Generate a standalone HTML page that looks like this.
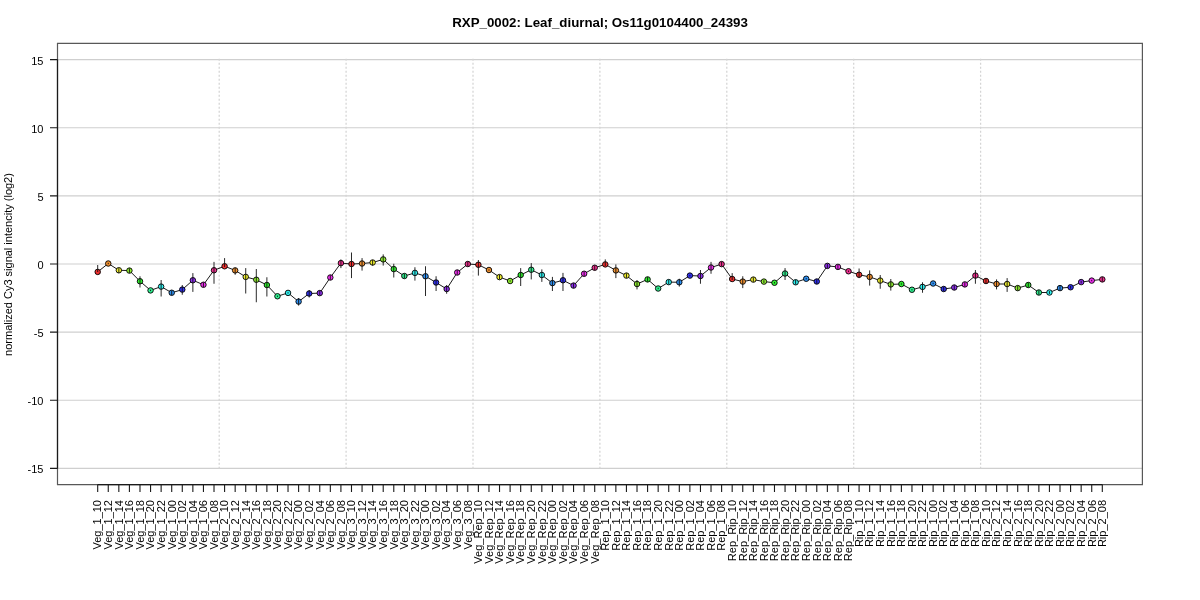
<!DOCTYPE html>
<html><head><meta charset="utf-8"><title>RXP_0002</title><style>
html,body{margin:0;padding:0;background:#fff;width:1200px;height:600px;overflow:hidden}
svg{display:block;will-change:transform}
text{font-family:"Liberation Sans",sans-serif;fill:#000}
</style></head><body>
<svg width="1200" height="600" viewBox="0 0 1200 600">
<rect x="0" y="0" width="1200" height="600" fill="#fff"/>
<text x="600" y="26.8" text-anchor="middle" font-weight="bold" font-size="13.3">RXP_0002: Leaf_diurnal; Os11g0104400_24393</text>
<path d="M57.5 468.40H1142.5M57.5 400.27H1142.5M57.5 332.13H1142.5M57.5 264.00H1142.5M57.5 195.87H1142.5M57.5 127.73H1142.5M57.5 59.59H1142.5" stroke="#CFCFCF" stroke-width="1.1" fill="none"/>
<path d="M219.20 58.80V468.40M346.10 58.80V468.40M473.00 58.80V468.40M599.90 58.80V468.40M726.80 58.80V468.40M853.70 58.80V468.40M980.60 58.80V468.40" stroke="#D4D4D4" stroke-width="1.25" stroke-dasharray="2 2" fill="none"/>
<polyline points="97.69,271.90 108.26,263.50 118.83,270.25 129.41,270.60 139.99,281.25 150.56,290.40 161.13,286.60 171.71,292.75 182.28,289.60 192.86,280.25 203.44,284.75 214.01,270.25 224.59,266.25 235.16,270.40 245.73,276.90 256.31,279.75 266.88,285.00 277.46,296.25 288.03,292.90 298.61,301.60 309.19,293.50 319.76,293.10 330.33,277.50 340.91,263.10 351.49,264.00 362.06,263.50 372.63,262.50 383.21,259.40 393.78,269.10 404.36,276.00 414.93,272.90 425.51,276.25 436.08,282.50 446.66,289.00 457.23,272.50 467.81,264.00 478.38,264.75 488.96,270.00 499.53,277.10 510.11,281.00 520.68,275.00 531.26,269.75 541.83,275.00 552.41,283.10 562.98,280.25 573.56,285.60 584.13,273.75 594.71,267.75 605.28,264.40 615.86,270.40 626.43,275.60 637.01,284.00 647.58,279.40 658.16,288.50 668.73,282.10 679.31,282.25 689.88,275.60 700.46,276.00 711.03,267.50 721.61,264.10 732.18,279.00 742.76,281.60 753.33,279.60 763.91,281.60 774.48,282.75 785.06,273.50 795.63,282.25 806.21,278.75 816.78,281.50 827.36,265.90 837.93,266.90 848.51,271.25 859.08,274.75 869.66,276.90 880.23,280.60 890.81,284.40 901.38,284.00 911.96,289.75 922.53,286.90 933.11,283.50 943.68,289.00 954.26,287.50 964.83,284.40 975.41,275.60 985.98,281.00 996.56,284.00 1007.13,284.00 1017.71,288.10 1028.28,285.00 1038.86,292.50 1049.43,292.50 1060.01,288.10 1070.59,287.25 1081.16,282.10 1091.73,280.60 1102.31,279.40" stroke="#1A1A1A" stroke-width="1" fill="none"/>
<circle cx="97.69" cy="271.90" r="2.75" fill="#F03030" stroke="#000" stroke-width="0.9"/><circle cx="108.26" cy="263.50" r="2.75" fill="#F09030" stroke="#000" stroke-width="0.9"/><circle cx="118.83" cy="270.25" r="2.75" fill="#F0F030" stroke="#000" stroke-width="0.9"/><circle cx="129.41" cy="270.60" r="2.75" fill="#90F030" stroke="#000" stroke-width="0.9"/><circle cx="139.99" cy="281.25" r="2.75" fill="#30F030" stroke="#000" stroke-width="0.9"/><circle cx="150.56" cy="290.40" r="2.75" fill="#30F090" stroke="#000" stroke-width="0.9"/><circle cx="161.13" cy="286.60" r="2.75" fill="#30F0F0" stroke="#000" stroke-width="0.9"/><circle cx="171.71" cy="292.75" r="2.75" fill="#3090F0" stroke="#000" stroke-width="0.9"/><circle cx="182.28" cy="289.60" r="2.75" fill="#3030F0" stroke="#000" stroke-width="0.9"/><circle cx="192.86" cy="280.25" r="2.75" fill="#9030F0" stroke="#000" stroke-width="0.9"/><circle cx="203.44" cy="284.75" r="2.75" fill="#F030F0" stroke="#000" stroke-width="0.9"/><circle cx="214.01" cy="270.25" r="2.75" fill="#F03090" stroke="#000" stroke-width="0.9"/><circle cx="224.59" cy="266.25" r="2.75" fill="#F03030" stroke="#000" stroke-width="0.9"/><circle cx="235.16" cy="270.40" r="2.75" fill="#F09030" stroke="#000" stroke-width="0.9"/><circle cx="245.73" cy="276.90" r="2.75" fill="#F0F030" stroke="#000" stroke-width="0.9"/><circle cx="256.31" cy="279.75" r="2.75" fill="#90F030" stroke="#000" stroke-width="0.9"/><circle cx="266.88" cy="285.00" r="2.75" fill="#30F030" stroke="#000" stroke-width="0.9"/><circle cx="277.46" cy="296.25" r="2.75" fill="#30F090" stroke="#000" stroke-width="0.9"/><circle cx="288.03" cy="292.90" r="2.75" fill="#30F0F0" stroke="#000" stroke-width="0.9"/><circle cx="298.61" cy="301.60" r="2.75" fill="#3090F0" stroke="#000" stroke-width="0.9"/><circle cx="309.19" cy="293.50" r="2.75" fill="#3030F0" stroke="#000" stroke-width="0.9"/><circle cx="319.76" cy="293.10" r="2.75" fill="#9030F0" stroke="#000" stroke-width="0.9"/><circle cx="330.33" cy="277.50" r="2.75" fill="#F030F0" stroke="#000" stroke-width="0.9"/><circle cx="340.91" cy="263.10" r="2.75" fill="#F03090" stroke="#000" stroke-width="0.9"/><circle cx="351.49" cy="264.00" r="2.75" fill="#F03030" stroke="#000" stroke-width="0.9"/><circle cx="362.06" cy="263.50" r="2.75" fill="#F09030" stroke="#000" stroke-width="0.9"/><circle cx="372.63" cy="262.50" r="2.75" fill="#F0F030" stroke="#000" stroke-width="0.9"/><circle cx="383.21" cy="259.40" r="2.75" fill="#90F030" stroke="#000" stroke-width="0.9"/><circle cx="393.78" cy="269.10" r="2.75" fill="#30F030" stroke="#000" stroke-width="0.9"/><circle cx="404.36" cy="276.00" r="2.75" fill="#30F090" stroke="#000" stroke-width="0.9"/><circle cx="414.93" cy="272.90" r="2.75" fill="#30F0F0" stroke="#000" stroke-width="0.9"/><circle cx="425.51" cy="276.25" r="2.75" fill="#3090F0" stroke="#000" stroke-width="0.9"/><circle cx="436.08" cy="282.50" r="2.75" fill="#3030F0" stroke="#000" stroke-width="0.9"/><circle cx="446.66" cy="289.00" r="2.75" fill="#9030F0" stroke="#000" stroke-width="0.9"/><circle cx="457.23" cy="272.50" r="2.75" fill="#F030F0" stroke="#000" stroke-width="0.9"/><circle cx="467.81" cy="264.00" r="2.75" fill="#F03090" stroke="#000" stroke-width="0.9"/><circle cx="478.38" cy="264.75" r="2.75" fill="#F03030" stroke="#000" stroke-width="0.9"/><circle cx="488.96" cy="270.00" r="2.75" fill="#F09030" stroke="#000" stroke-width="0.9"/><circle cx="499.53" cy="277.10" r="2.75" fill="#F0F030" stroke="#000" stroke-width="0.9"/><circle cx="510.11" cy="281.00" r="2.75" fill="#90F030" stroke="#000" stroke-width="0.9"/><circle cx="520.68" cy="275.00" r="2.75" fill="#30F030" stroke="#000" stroke-width="0.9"/><circle cx="531.26" cy="269.75" r="2.75" fill="#30F090" stroke="#000" stroke-width="0.9"/><circle cx="541.83" cy="275.00" r="2.75" fill="#30F0F0" stroke="#000" stroke-width="0.9"/><circle cx="552.41" cy="283.10" r="2.75" fill="#3090F0" stroke="#000" stroke-width="0.9"/><circle cx="562.98" cy="280.25" r="2.75" fill="#3030F0" stroke="#000" stroke-width="0.9"/><circle cx="573.56" cy="285.60" r="2.75" fill="#9030F0" stroke="#000" stroke-width="0.9"/><circle cx="584.13" cy="273.75" r="2.75" fill="#F030F0" stroke="#000" stroke-width="0.9"/><circle cx="594.71" cy="267.75" r="2.75" fill="#F03090" stroke="#000" stroke-width="0.9"/><circle cx="605.28" cy="264.40" r="2.75" fill="#F03030" stroke="#000" stroke-width="0.9"/><circle cx="615.86" cy="270.40" r="2.75" fill="#F09030" stroke="#000" stroke-width="0.9"/><circle cx="626.43" cy="275.60" r="2.75" fill="#F0F030" stroke="#000" stroke-width="0.9"/><circle cx="637.01" cy="284.00" r="2.75" fill="#90F030" stroke="#000" stroke-width="0.9"/><circle cx="647.58" cy="279.40" r="2.75" fill="#30F030" stroke="#000" stroke-width="0.9"/><circle cx="658.16" cy="288.50" r="2.75" fill="#30F090" stroke="#000" stroke-width="0.9"/><circle cx="668.73" cy="282.10" r="2.75" fill="#30F0F0" stroke="#000" stroke-width="0.9"/><circle cx="679.31" cy="282.25" r="2.75" fill="#3090F0" stroke="#000" stroke-width="0.9"/><circle cx="689.88" cy="275.60" r="2.75" fill="#3030F0" stroke="#000" stroke-width="0.9"/><circle cx="700.46" cy="276.00" r="2.75" fill="#9030F0" stroke="#000" stroke-width="0.9"/><circle cx="711.03" cy="267.50" r="2.75" fill="#F030F0" stroke="#000" stroke-width="0.9"/><circle cx="721.61" cy="264.10" r="2.75" fill="#F03090" stroke="#000" stroke-width="0.9"/><circle cx="732.18" cy="279.00" r="2.75" fill="#F03030" stroke="#000" stroke-width="0.9"/><circle cx="742.76" cy="281.60" r="2.75" fill="#F09030" stroke="#000" stroke-width="0.9"/><circle cx="753.33" cy="279.60" r="2.75" fill="#F0F030" stroke="#000" stroke-width="0.9"/><circle cx="763.91" cy="281.60" r="2.75" fill="#90F030" stroke="#000" stroke-width="0.9"/><circle cx="774.48" cy="282.75" r="2.75" fill="#30F030" stroke="#000" stroke-width="0.9"/><circle cx="785.06" cy="273.50" r="2.75" fill="#30F090" stroke="#000" stroke-width="0.9"/><circle cx="795.63" cy="282.25" r="2.75" fill="#30F0F0" stroke="#000" stroke-width="0.9"/><circle cx="806.21" cy="278.75" r="2.75" fill="#3090F0" stroke="#000" stroke-width="0.9"/><circle cx="816.78" cy="281.50" r="2.75" fill="#3030F0" stroke="#000" stroke-width="0.9"/><circle cx="827.36" cy="265.90" r="2.75" fill="#9030F0" stroke="#000" stroke-width="0.9"/><circle cx="837.93" cy="266.90" r="2.75" fill="#F030F0" stroke="#000" stroke-width="0.9"/><circle cx="848.51" cy="271.25" r="2.75" fill="#F03090" stroke="#000" stroke-width="0.9"/><circle cx="859.08" cy="274.75" r="2.75" fill="#F03030" stroke="#000" stroke-width="0.9"/><circle cx="869.66" cy="276.90" r="2.75" fill="#F09030" stroke="#000" stroke-width="0.9"/><circle cx="880.23" cy="280.60" r="2.75" fill="#F0F030" stroke="#000" stroke-width="0.9"/><circle cx="890.81" cy="284.40" r="2.75" fill="#90F030" stroke="#000" stroke-width="0.9"/><circle cx="901.38" cy="284.00" r="2.75" fill="#30F030" stroke="#000" stroke-width="0.9"/><circle cx="911.96" cy="289.75" r="2.75" fill="#30F090" stroke="#000" stroke-width="0.9"/><circle cx="922.53" cy="286.90" r="2.75" fill="#30F0F0" stroke="#000" stroke-width="0.9"/><circle cx="933.11" cy="283.50" r="2.75" fill="#3090F0" stroke="#000" stroke-width="0.9"/><circle cx="943.68" cy="289.00" r="2.75" fill="#3030F0" stroke="#000" stroke-width="0.9"/><circle cx="954.26" cy="287.50" r="2.75" fill="#9030F0" stroke="#000" stroke-width="0.9"/><circle cx="964.83" cy="284.40" r="2.75" fill="#F030F0" stroke="#000" stroke-width="0.9"/><circle cx="975.41" cy="275.60" r="2.75" fill="#F03090" stroke="#000" stroke-width="0.9"/><circle cx="985.98" cy="281.00" r="2.75" fill="#F03030" stroke="#000" stroke-width="0.9"/><circle cx="996.56" cy="284.00" r="2.75" fill="#F09030" stroke="#000" stroke-width="0.9"/><circle cx="1007.13" cy="284.00" r="2.75" fill="#F0F030" stroke="#000" stroke-width="0.9"/><circle cx="1017.71" cy="288.10" r="2.75" fill="#90F030" stroke="#000" stroke-width="0.9"/><circle cx="1028.28" cy="285.00" r="2.75" fill="#30F030" stroke="#000" stroke-width="0.9"/><circle cx="1038.86" cy="292.50" r="2.75" fill="#30F090" stroke="#000" stroke-width="0.9"/><circle cx="1049.43" cy="292.50" r="2.75" fill="#30F0F0" stroke="#000" stroke-width="0.9"/><circle cx="1060.01" cy="288.10" r="2.75" fill="#3090F0" stroke="#000" stroke-width="0.9"/><circle cx="1070.59" cy="287.25" r="2.75" fill="#3030F0" stroke="#000" stroke-width="0.9"/><circle cx="1081.16" cy="282.10" r="2.75" fill="#9030F0" stroke="#000" stroke-width="0.9"/><circle cx="1091.73" cy="280.60" r="2.75" fill="#F030F0" stroke="#000" stroke-width="0.9"/><circle cx="1102.31" cy="279.40" r="2.75" fill="#F03090" stroke="#000" stroke-width="0.9"/>
<path d="M97.69 265.00V272.00M108.26 262.80V264.20M118.83 268.10V273.10M129.41 268.30V272.90M139.99 276.25V287.50M150.56 289.70V291.10M161.13 280.00V296.50M171.71 290.45V295.05M182.28 285.00V294.75M192.86 273.10V291.90M203.44 282.45V287.05M214.01 261.90V283.75M224.59 258.10V267.00M235.16 267.75V274.75M245.73 268.10V293.50M256.31 269.00V302.25M266.88 277.25V296.50M277.46 295.55V296.95M288.03 292.20V293.60M298.61 298.00V305.60M309.19 290.00V297.50M319.76 290.80V295.40M330.33 275.20V279.80M340.91 259.40V268.10M351.49 252.50V278.10M362.06 258.10V270.60M372.63 260.00V265.60M383.21 254.40V265.60M393.78 263.75V277.50M404.36 273.70V278.30M414.93 267.25V280.60M425.51 266.25V296.00M436.08 276.25V291.00M446.66 285.00V293.75M457.23 270.20V274.80M467.81 261.70V266.30M478.38 260.00V275.60M488.96 269.30V270.70M499.53 274.80V279.40M510.11 280.30V281.70M520.68 268.10V286.00M531.26 263.10V279.40M541.83 269.40V281.90M552.41 276.90V291.00M562.98 272.90V291.00M573.56 283.30V287.90M584.13 271.45V276.05M594.71 265.45V270.05M605.28 259.40V266.00M615.86 264.40V278.10M626.43 273.30V277.90M637.01 280.00V289.40M647.58 277.10V281.70M658.16 287.80V289.20M668.73 279.80V284.40M679.31 278.75V286.60M689.88 274.90V276.30M700.46 270.00V283.75M711.03 261.90V273.75M721.61 261.80V266.40M732.18 273.10V280.00M742.76 276.25V288.10M753.33 277.30V281.90M763.91 280.20V283.00M774.48 282.05V283.45M785.06 268.10V280.00M795.63 279.95V284.55M806.21 278.05V279.45M816.78 279.20V283.80M827.36 263.60V268.20M837.93 264.60V269.20M848.51 270.55V271.95M859.08 268.50V278.10M869.66 270.40V285.60M880.23 275.00V288.75M890.81 279.00V290.60M901.38 283.30V284.70M911.96 289.05V290.45M922.53 282.25V292.75M933.11 282.80V284.20M943.68 286.70V291.30M954.26 285.20V289.80M964.83 282.10V286.70M975.41 270.00V283.75M985.98 278.70V283.30M996.56 279.40V289.40M1007.13 278.10V291.90M1017.71 285.80V290.40M1028.28 282.70V287.30M1038.86 290.20V294.80M1049.43 291.10V293.90M1060.01 285.80V290.40M1070.59 285.85V288.65M1081.16 280.70V283.50M1091.73 279.90V281.30M1102.31 277.10V281.70" stroke="#111" stroke-width="0.9" fill="none"/>
<path d="M57.5 43.3H1142.4V484.6H57.5Z" fill="none" stroke="#585858" stroke-width="1.2"/>
<path d="M57.5 59.59V468.40" stroke="#1A1A1A" stroke-width="1.2" fill="none"/>
<path d="M50 468.40H57.5M50 400.27H57.5M50 332.13H57.5M50 264.00H57.5M50 195.87H57.5M50 127.73H57.5M50 59.59H57.5" stroke="#1A1A1A" stroke-width="1.1" fill="none"/>
<text x="43.5" y="473.4" text-anchor="end" font-size="11">-15</text><text x="43.5" y="405.3" text-anchor="end" font-size="11">-10</text><text x="43.5" y="337.1" text-anchor="end" font-size="11">-5</text><text x="43.5" y="269.0" text-anchor="end" font-size="11">0</text><text x="43.5" y="200.9" text-anchor="end" font-size="11">5</text><text x="43.5" y="132.7" text-anchor="end" font-size="11">10</text><text x="43.5" y="64.6" text-anchor="end" font-size="11">15</text>
<path d="M97.69 484.6H1102.31M97.69 484.5V492M108.26 484.5V492M118.83 484.5V492M129.41 484.5V492M139.99 484.5V492M150.56 484.5V492M161.13 484.5V492M171.71 484.5V492M182.28 484.5V492M192.86 484.5V492M203.44 484.5V492M214.01 484.5V492M224.59 484.5V492M235.16 484.5V492M245.73 484.5V492M256.31 484.5V492M266.88 484.5V492M277.46 484.5V492M288.03 484.5V492M298.61 484.5V492M309.19 484.5V492M319.76 484.5V492M330.33 484.5V492M340.91 484.5V492M351.49 484.5V492M362.06 484.5V492M372.63 484.5V492M383.21 484.5V492M393.78 484.5V492M404.36 484.5V492M414.93 484.5V492M425.51 484.5V492M436.08 484.5V492M446.66 484.5V492M457.23 484.5V492M467.81 484.5V492M478.38 484.5V492M488.96 484.5V492M499.53 484.5V492M510.11 484.5V492M520.68 484.5V492M531.26 484.5V492M541.83 484.5V492M552.41 484.5V492M562.98 484.5V492M573.56 484.5V492M584.13 484.5V492M594.71 484.5V492M605.28 484.5V492M615.86 484.5V492M626.43 484.5V492M637.01 484.5V492M647.58 484.5V492M658.16 484.5V492M668.73 484.5V492M679.31 484.5V492M689.88 484.5V492M700.46 484.5V492M711.03 484.5V492M721.61 484.5V492M732.18 484.5V492M742.76 484.5V492M753.33 484.5V492M763.91 484.5V492M774.48 484.5V492M785.06 484.5V492M795.63 484.5V492M806.21 484.5V492M816.78 484.5V492M827.36 484.5V492M837.93 484.5V492M848.51 484.5V492M859.08 484.5V492M869.66 484.5V492M880.23 484.5V492M890.81 484.5V492M901.38 484.5V492M911.96 484.5V492M922.53 484.5V492M933.11 484.5V492M943.68 484.5V492M954.26 484.5V492M964.83 484.5V492M975.41 484.5V492M985.98 484.5V492M996.56 484.5V492M1007.13 484.5V492M1017.71 484.5V492M1028.28 484.5V492M1038.86 484.5V492M1049.43 484.5V492M1060.01 484.5V492M1070.59 484.5V492M1081.16 484.5V492M1091.73 484.5V492M1102.31 484.5V492" stroke="#1A1A1A" stroke-width="1.1" fill="none"/>
<text transform="translate(101.48,500) rotate(-90)" text-anchor="end" font-size="11">Veg_1_10</text>
<text transform="translate(112.06,500) rotate(-90)" text-anchor="end" font-size="11">Veg_1_12</text>
<text transform="translate(122.63,500) rotate(-90)" text-anchor="end" font-size="11">Veg_1_14</text>
<text transform="translate(133.21,500) rotate(-90)" text-anchor="end" font-size="11">Veg_1_16</text>
<text transform="translate(143.79,500) rotate(-90)" text-anchor="end" font-size="11">Veg_1_18</text>
<text transform="translate(154.36,500) rotate(-90)" text-anchor="end" font-size="11">Veg_1_20</text>
<text transform="translate(164.94,500) rotate(-90)" text-anchor="end" font-size="11">Veg_1_22</text>
<text transform="translate(175.51,500) rotate(-90)" text-anchor="end" font-size="11">Veg_1_00</text>
<text transform="translate(186.09,500) rotate(-90)" text-anchor="end" font-size="11">Veg_1_02</text>
<text transform="translate(196.66,500) rotate(-90)" text-anchor="end" font-size="11">Veg_1_04</text>
<text transform="translate(207.24,500) rotate(-90)" text-anchor="end" font-size="11">Veg_1_06</text>
<text transform="translate(217.81,500) rotate(-90)" text-anchor="end" font-size="11">Veg_1_08</text>
<text transform="translate(228.39,500) rotate(-90)" text-anchor="end" font-size="11">Veg_2_10</text>
<text transform="translate(238.96,500) rotate(-90)" text-anchor="end" font-size="11">Veg_2_12</text>
<text transform="translate(249.53,500) rotate(-90)" text-anchor="end" font-size="11">Veg_2_14</text>
<text transform="translate(260.11,500) rotate(-90)" text-anchor="end" font-size="11">Veg_2_16</text>
<text transform="translate(270.69,500) rotate(-90)" text-anchor="end" font-size="11">Veg_2_18</text>
<text transform="translate(281.26,500) rotate(-90)" text-anchor="end" font-size="11">Veg_2_20</text>
<text transform="translate(291.83,500) rotate(-90)" text-anchor="end" font-size="11">Veg_2_22</text>
<text transform="translate(302.41,500) rotate(-90)" text-anchor="end" font-size="11">Veg_2_00</text>
<text transform="translate(312.99,500) rotate(-90)" text-anchor="end" font-size="11">Veg_2_02</text>
<text transform="translate(323.56,500) rotate(-90)" text-anchor="end" font-size="11">Veg_2_04</text>
<text transform="translate(334.13,500) rotate(-90)" text-anchor="end" font-size="11">Veg_2_06</text>
<text transform="translate(344.71,500) rotate(-90)" text-anchor="end" font-size="11">Veg_2_08</text>
<text transform="translate(355.29,500) rotate(-90)" text-anchor="end" font-size="11">Veg_3_10</text>
<text transform="translate(365.86,500) rotate(-90)" text-anchor="end" font-size="11">Veg_3_12</text>
<text transform="translate(376.44,500) rotate(-90)" text-anchor="end" font-size="11">Veg_3_14</text>
<text transform="translate(387.01,500) rotate(-90)" text-anchor="end" font-size="11">Veg_3_16</text>
<text transform="translate(397.58,500) rotate(-90)" text-anchor="end" font-size="11">Veg_3_18</text>
<text transform="translate(408.16,500) rotate(-90)" text-anchor="end" font-size="11">Veg_3_20</text>
<text transform="translate(418.73,500) rotate(-90)" text-anchor="end" font-size="11">Veg_3_22</text>
<text transform="translate(429.31,500) rotate(-90)" text-anchor="end" font-size="11">Veg_3_00</text>
<text transform="translate(439.88,500) rotate(-90)" text-anchor="end" font-size="11">Veg_3_02</text>
<text transform="translate(450.46,500) rotate(-90)" text-anchor="end" font-size="11">Veg_3_04</text>
<text transform="translate(461.03,500) rotate(-90)" text-anchor="end" font-size="11">Veg_3_06</text>
<text transform="translate(471.61,500) rotate(-90)" text-anchor="end" font-size="11">Veg_3_08</text>
<text transform="translate(482.18,500) rotate(-90)" text-anchor="end" font-size="11">Veg_Rep_10</text>
<text transform="translate(492.76,500) rotate(-90)" text-anchor="end" font-size="11">Veg_Rep_12</text>
<text transform="translate(503.33,500) rotate(-90)" text-anchor="end" font-size="11">Veg_Rep_14</text>
<text transform="translate(513.91,500) rotate(-90)" text-anchor="end" font-size="11">Veg_Rep_16</text>
<text transform="translate(524.48,500) rotate(-90)" text-anchor="end" font-size="11">Veg_Rep_18</text>
<text transform="translate(535.06,500) rotate(-90)" text-anchor="end" font-size="11">Veg_Rep_20</text>
<text transform="translate(545.63,500) rotate(-90)" text-anchor="end" font-size="11">Veg_Rep_22</text>
<text transform="translate(556.21,500) rotate(-90)" text-anchor="end" font-size="11">Veg_Rep_00</text>
<text transform="translate(566.78,500) rotate(-90)" text-anchor="end" font-size="11">Veg_Rep_02</text>
<text transform="translate(577.36,500) rotate(-90)" text-anchor="end" font-size="11">Veg_Rep_04</text>
<text transform="translate(587.93,500) rotate(-90)" text-anchor="end" font-size="11">Veg_Rep_06</text>
<text transform="translate(598.51,500) rotate(-90)" text-anchor="end" font-size="11">Veg_Rep_08</text>
<text transform="translate(609.08,500) rotate(-90)" text-anchor="end" font-size="11">Rep_1_10</text>
<text transform="translate(619.66,500) rotate(-90)" text-anchor="end" font-size="11">Rep_1_12</text>
<text transform="translate(630.23,500) rotate(-90)" text-anchor="end" font-size="11">Rep_1_14</text>
<text transform="translate(640.81,500) rotate(-90)" text-anchor="end" font-size="11">Rep_1_16</text>
<text transform="translate(651.38,500) rotate(-90)" text-anchor="end" font-size="11">Rep_1_18</text>
<text transform="translate(661.96,500) rotate(-90)" text-anchor="end" font-size="11">Rep_1_20</text>
<text transform="translate(672.53,500) rotate(-90)" text-anchor="end" font-size="11">Rep_1_22</text>
<text transform="translate(683.11,500) rotate(-90)" text-anchor="end" font-size="11">Rep_1_00</text>
<text transform="translate(693.68,500) rotate(-90)" text-anchor="end" font-size="11">Rep_1_02</text>
<text transform="translate(704.26,500) rotate(-90)" text-anchor="end" font-size="11">Rep_1_04</text>
<text transform="translate(714.83,500) rotate(-90)" text-anchor="end" font-size="11">Rep_1_06</text>
<text transform="translate(725.41,500) rotate(-90)" text-anchor="end" font-size="11">Rep_1_08</text>
<text transform="translate(735.98,500) rotate(-90)" text-anchor="end" font-size="11">Rep_Rip_10</text>
<text transform="translate(746.56,500) rotate(-90)" text-anchor="end" font-size="11">Rep_Rip_12</text>
<text transform="translate(757.13,500) rotate(-90)" text-anchor="end" font-size="11">Rep_Rip_14</text>
<text transform="translate(767.71,500) rotate(-90)" text-anchor="end" font-size="11">Rep_Rip_16</text>
<text transform="translate(778.28,500) rotate(-90)" text-anchor="end" font-size="11">Rep_Rip_18</text>
<text transform="translate(788.86,500) rotate(-90)" text-anchor="end" font-size="11">Rep_Rip_20</text>
<text transform="translate(799.43,500) rotate(-90)" text-anchor="end" font-size="11">Rep_Rip_22</text>
<text transform="translate(810.01,500) rotate(-90)" text-anchor="end" font-size="11">Rep_Rip_00</text>
<text transform="translate(820.58,500) rotate(-90)" text-anchor="end" font-size="11">Rep_Rip_02</text>
<text transform="translate(831.16,500) rotate(-90)" text-anchor="end" font-size="11">Rep_Rip_04</text>
<text transform="translate(841.73,500) rotate(-90)" text-anchor="end" font-size="11">Rep_Rip_06</text>
<text transform="translate(852.31,500) rotate(-90)" text-anchor="end" font-size="11">Rep_Rip_08</text>
<text transform="translate(862.88,500) rotate(-90)" text-anchor="end" font-size="11">Rip_1_10</text>
<text transform="translate(873.46,500) rotate(-90)" text-anchor="end" font-size="11">Rip_1_12</text>
<text transform="translate(884.03,500) rotate(-90)" text-anchor="end" font-size="11">Rip_1_14</text>
<text transform="translate(894.61,500) rotate(-90)" text-anchor="end" font-size="11">Rip_1_16</text>
<text transform="translate(905.18,500) rotate(-90)" text-anchor="end" font-size="11">Rip_1_18</text>
<text transform="translate(915.76,500) rotate(-90)" text-anchor="end" font-size="11">Rip_1_20</text>
<text transform="translate(926.33,500) rotate(-90)" text-anchor="end" font-size="11">Rip_1_22</text>
<text transform="translate(936.91,500) rotate(-90)" text-anchor="end" font-size="11">Rip_1_00</text>
<text transform="translate(947.48,500) rotate(-90)" text-anchor="end" font-size="11">Rip_1_02</text>
<text transform="translate(958.06,500) rotate(-90)" text-anchor="end" font-size="11">Rip_1_04</text>
<text transform="translate(968.63,500) rotate(-90)" text-anchor="end" font-size="11">Rip_1_06</text>
<text transform="translate(979.21,500) rotate(-90)" text-anchor="end" font-size="11">Rip_1_08</text>
<text transform="translate(989.78,500) rotate(-90)" text-anchor="end" font-size="11">Rip_2_10</text>
<text transform="translate(1000.36,500) rotate(-90)" text-anchor="end" font-size="11">Rip_2_12</text>
<text transform="translate(1010.93,500) rotate(-90)" text-anchor="end" font-size="11">Rip_2_14</text>
<text transform="translate(1021.51,500) rotate(-90)" text-anchor="end" font-size="11">Rip_2_16</text>
<text transform="translate(1032.08,500) rotate(-90)" text-anchor="end" font-size="11">Rip_2_18</text>
<text transform="translate(1042.66,500) rotate(-90)" text-anchor="end" font-size="11">Rip_2_20</text>
<text transform="translate(1053.23,500) rotate(-90)" text-anchor="end" font-size="11">Rip_2_22</text>
<text transform="translate(1063.81,500) rotate(-90)" text-anchor="end" font-size="11">Rip_2_00</text>
<text transform="translate(1074.38,500) rotate(-90)" text-anchor="end" font-size="11">Rip_2_02</text>
<text transform="translate(1084.96,500) rotate(-90)" text-anchor="end" font-size="11">Rip_2_04</text>
<text transform="translate(1095.53,500) rotate(-90)" text-anchor="end" font-size="11">Rip_2_06</text>
<text transform="translate(1106.11,500) rotate(-90)" text-anchor="end" font-size="11">Rip_2_08</text>
<text transform="translate(11.7,264.5) rotate(-90)" text-anchor="middle" font-size="11">normalized Cy3 signal intencity (log2)</text>
</svg></body></html>
